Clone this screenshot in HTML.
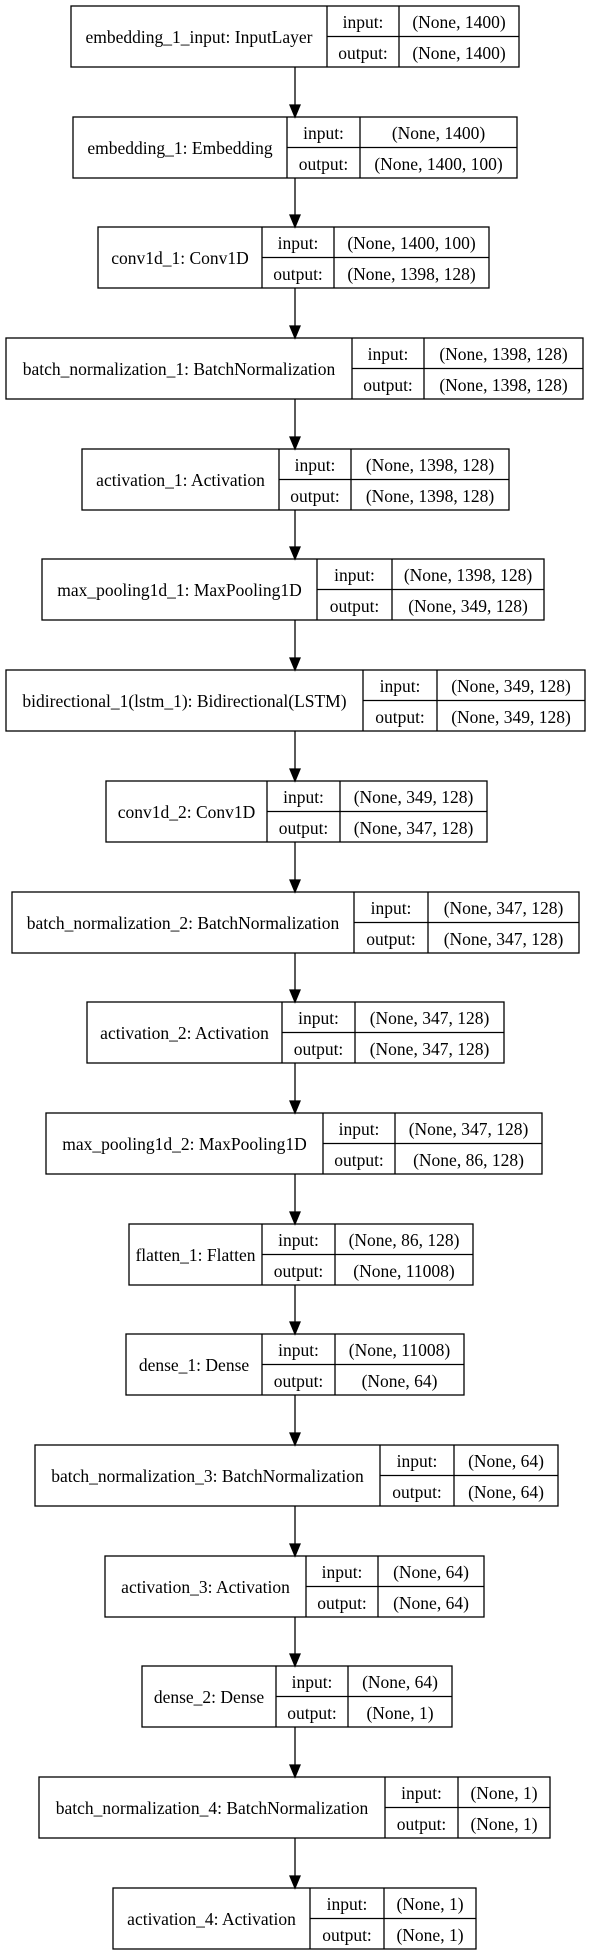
<!DOCTYPE html>
<html><head><meta charset="utf-8"><style>
html,body{margin:0;padding:0;background:#fff;}
svg{display:block;}
text{font-family:"Liberation Serif",serif;font-size:17.5px;fill:#000;text-anchor:middle;}
rect,line{stroke:#000;stroke-width:1.3;fill:none;}
</style></head><body>
<svg width="589" height="1955" viewBox="0 0 589 1955" xmlns="http://www.w3.org/2000/svg">
<g transform="translate(0,6)"><rect x="71" y="0" width="448" height="61"/><line x1="327" y1="0" x2="327" y2="61"/><line x1="399" y1="0" x2="399" y2="61"/><line x1="327" y1="30.5" x2="519" y2="30.5"/><text x="199" y="37">embedding_1_input: InputLayer</text><text x="363" y="22">input:</text><text x="363" y="53">output:</text><text x="459" y="22">(None, 1400)</text><text x="459" y="53">(None, 1400)</text></g>
<g transform="translate(0,117)"><rect x="73" y="0" width="444" height="61"/><line x1="287" y1="0" x2="287" y2="61"/><line x1="360" y1="0" x2="360" y2="61"/><line x1="287" y1="30.5" x2="517" y2="30.5"/><text x="180" y="37">embedding_1: Embedding</text><text x="323.5" y="22">input:</text><text x="323.5" y="53">output:</text><text x="438.5" y="22">(None, 1400)</text><text x="438.5" y="53">(None, 1400, 100)</text></g>
<g transform="translate(0,227)"><rect x="98" y="0" width="391" height="61"/><line x1="262" y1="0" x2="262" y2="61"/><line x1="334" y1="0" x2="334" y2="61"/><line x1="262" y1="30.5" x2="489" y2="30.5"/><text x="180" y="37">conv1d_1: Conv1D</text><text x="298" y="22">input:</text><text x="298" y="53">output:</text><text x="411.5" y="22">(None, 1400, 100)</text><text x="411.5" y="53">(None, 1398, 128)</text></g>
<g transform="translate(0,338)"><rect x="6" y="0" width="577" height="61"/><line x1="352" y1="0" x2="352" y2="61"/><line x1="424" y1="0" x2="424" y2="61"/><line x1="352" y1="30.5" x2="583" y2="30.5"/><text x="179" y="37">batch_normalization_1: BatchNormalization</text><text x="388" y="22">input:</text><text x="388" y="53">output:</text><text x="503.5" y="22">(None, 1398, 128)</text><text x="503.5" y="53">(None, 1398, 128)</text></g>
<g transform="translate(0,449)"><rect x="82" y="0" width="427" height="61"/><line x1="279" y1="0" x2="279" y2="61"/><line x1="351" y1="0" x2="351" y2="61"/><line x1="279" y1="30.5" x2="509" y2="30.5"/><text x="180.5" y="37">activation_1: Activation</text><text x="315" y="22">input:</text><text x="315" y="53">output:</text><text x="430" y="22">(None, 1398, 128)</text><text x="430" y="53">(None, 1398, 128)</text></g>
<g transform="translate(0,559)"><rect x="42" y="0" width="502" height="61"/><line x1="317" y1="0" x2="317" y2="61"/><line x1="392" y1="0" x2="392" y2="61"/><line x1="317" y1="30.5" x2="544" y2="30.5"/><text x="179.5" y="37">max_pooling1d_1: MaxPooling1D</text><text x="354.5" y="22">input:</text><text x="354.5" y="53">output:</text><text x="468" y="22">(None, 1398, 128)</text><text x="468" y="53">(None, 349, 128)</text></g>
<g transform="translate(0,670)"><rect x="6" y="0" width="579" height="61"/><line x1="363" y1="0" x2="363" y2="61"/><line x1="437" y1="0" x2="437" y2="61"/><line x1="363" y1="30.5" x2="585" y2="30.5"/><text x="184.5" y="37">bidirectional_1(lstm_1): Bidirectional(LSTM)</text><text x="400" y="22">input:</text><text x="400" y="53">output:</text><text x="511" y="22">(None, 349, 128)</text><text x="511" y="53">(None, 349, 128)</text></g>
<g transform="translate(0,781)"><rect x="106" y="0" width="381" height="61"/><line x1="267" y1="0" x2="267" y2="61"/><line x1="340" y1="0" x2="340" y2="61"/><line x1="267" y1="30.5" x2="487" y2="30.5"/><text x="186.5" y="37">conv1d_2: Conv1D</text><text x="303.5" y="22">input:</text><text x="303.5" y="53">output:</text><text x="413.5" y="22">(None, 349, 128)</text><text x="413.5" y="53">(None, 347, 128)</text></g>
<g transform="translate(0,892)"><rect x="12" y="0" width="567" height="61"/><line x1="354" y1="0" x2="354" y2="61"/><line x1="428" y1="0" x2="428" y2="61"/><line x1="354" y1="30.5" x2="579" y2="30.5"/><text x="183" y="37">batch_normalization_2: BatchNormalization</text><text x="391" y="22">input:</text><text x="391" y="53">output:</text><text x="503.5" y="22">(None, 347, 128)</text><text x="503.5" y="53">(None, 347, 128)</text></g>
<g transform="translate(0,1002)"><rect x="87" y="0" width="417" height="61"/><line x1="282" y1="0" x2="282" y2="61"/><line x1="355" y1="0" x2="355" y2="61"/><line x1="282" y1="30.5" x2="504" y2="30.5"/><text x="184.5" y="37">activation_2: Activation</text><text x="318.5" y="22">input:</text><text x="318.5" y="53">output:</text><text x="429.5" y="22">(None, 347, 128)</text><text x="429.5" y="53">(None, 347, 128)</text></g>
<g transform="translate(0,1113)"><rect x="46" y="0" width="496" height="61"/><line x1="323" y1="0" x2="323" y2="61"/><line x1="395" y1="0" x2="395" y2="61"/><line x1="323" y1="30.5" x2="542" y2="30.5"/><text x="184.5" y="37">max_pooling1d_2: MaxPooling1D</text><text x="359" y="22">input:</text><text x="359" y="53">output:</text><text x="468.5" y="22">(None, 347, 128)</text><text x="468.5" y="53">(None, 86, 128)</text></g>
<g transform="translate(0,1224)"><rect x="129" y="0" width="344" height="61"/><line x1="262" y1="0" x2="262" y2="61"/><line x1="335" y1="0" x2="335" y2="61"/><line x1="262" y1="30.5" x2="473" y2="30.5"/><text x="195.5" y="37">flatten_1: Flatten</text><text x="298.5" y="22">input:</text><text x="298.5" y="53">output:</text><text x="404" y="22">(None, 86, 128)</text><text x="404" y="53">(None, 11008)</text></g>
<g transform="translate(0,1334)"><rect x="126" y="0" width="338" height="61"/><line x1="262" y1="0" x2="262" y2="61"/><line x1="335" y1="0" x2="335" y2="61"/><line x1="262" y1="30.5" x2="464" y2="30.5"/><text x="194" y="37">dense_1: Dense</text><text x="298.5" y="22">input:</text><text x="298.5" y="53">output:</text><text x="399.5" y="22">(None, 11008)</text><text x="399.5" y="53">(None, 64)</text></g>
<g transform="translate(0,1445)"><rect x="35" y="0" width="523" height="61"/><line x1="380" y1="0" x2="380" y2="61"/><line x1="454" y1="0" x2="454" y2="61"/><line x1="380" y1="30.5" x2="558" y2="30.5"/><text x="207.5" y="37">batch_normalization_3: BatchNormalization</text><text x="417" y="22">input:</text><text x="417" y="53">output:</text><text x="506" y="22">(None, 64)</text><text x="506" y="53">(None, 64)</text></g>
<g transform="translate(0,1556)"><rect x="105" y="0" width="379" height="61"/><line x1="306" y1="0" x2="306" y2="61"/><line x1="378" y1="0" x2="378" y2="61"/><line x1="306" y1="30.5" x2="484" y2="30.5"/><text x="205.5" y="37">activation_3: Activation</text><text x="342" y="22">input:</text><text x="342" y="53">output:</text><text x="431" y="22">(None, 64)</text><text x="431" y="53">(None, 64)</text></g>
<g transform="translate(0,1666)"><rect x="142" y="0" width="310" height="61"/><line x1="276" y1="0" x2="276" y2="61"/><line x1="348" y1="0" x2="348" y2="61"/><line x1="276" y1="30.5" x2="452" y2="30.5"/><text x="209" y="37">dense_2: Dense</text><text x="312" y="22">input:</text><text x="312" y="53">output:</text><text x="400" y="22">(None, 64)</text><text x="400" y="53">(None, 1)</text></g>
<g transform="translate(0,1777)"><rect x="39" y="0" width="511" height="61"/><line x1="385" y1="0" x2="385" y2="61"/><line x1="458" y1="0" x2="458" y2="61"/><line x1="385" y1="30.5" x2="550" y2="30.5"/><text x="212" y="37">batch_normalization_4: BatchNormalization</text><text x="421.5" y="22">input:</text><text x="421.5" y="53">output:</text><text x="504" y="22">(None, 1)</text><text x="504" y="53">(None, 1)</text></g>
<g transform="translate(0,1888)"><rect x="113" y="0" width="363" height="61"/><line x1="310" y1="0" x2="310" y2="61"/><line x1="384" y1="0" x2="384" y2="61"/><line x1="310" y1="30.5" x2="476" y2="30.5"/><text x="211.5" y="37">activation_4: Activation</text><text x="347" y="22">input:</text><text x="347" y="53">output:</text><text x="430" y="22">(None, 1)</text><text x="430" y="53">(None, 1)</text></g>
<g stroke="#000" stroke-width="1.3" fill="#000">
<line x1="295" y1="67" x2="295" y2="106"/><polygon points="290,105 300,105 295,117"/>
<line x1="295" y1="178" x2="295" y2="216"/><polygon points="290,215 300,215 295,227"/>
<line x1="295" y1="288" x2="295" y2="327"/><polygon points="290,326 300,326 295,338"/>
<line x1="295" y1="399" x2="295" y2="438"/><polygon points="290,437 300,437 295,449"/>
<line x1="295" y1="510" x2="295" y2="548"/><polygon points="290,547 300,547 295,559"/>
<line x1="295" y1="620" x2="295" y2="659"/><polygon points="290,658 300,658 295,670"/>
<line x1="295" y1="731" x2="295" y2="770"/><polygon points="290,769 300,769 295,781"/>
<line x1="295" y1="842" x2="295" y2="881"/><polygon points="290,880 300,880 295,892"/>
<line x1="295" y1="953" x2="295" y2="991"/><polygon points="290,990 300,990 295,1002"/>
<line x1="295" y1="1063" x2="295" y2="1102"/><polygon points="290,1101 300,1101 295,1113"/>
<line x1="295" y1="1174" x2="295" y2="1213"/><polygon points="290,1212 300,1212 295,1224"/>
<line x1="295" y1="1285" x2="295" y2="1323"/><polygon points="290,1322 300,1322 295,1334"/>
<line x1="295" y1="1395" x2="295" y2="1434"/><polygon points="290,1433 300,1433 295,1445"/>
<line x1="295" y1="1506" x2="295" y2="1545"/><polygon points="290,1544 300,1544 295,1556"/>
<line x1="295" y1="1617" x2="295" y2="1655"/><polygon points="290,1654 300,1654 295,1666"/>
<line x1="295" y1="1727" x2="295" y2="1766"/><polygon points="290,1765 300,1765 295,1777"/>
<line x1="295" y1="1838" x2="295" y2="1877"/><polygon points="290,1876 300,1876 295,1888"/>
</g>
</svg>
</body></html>
